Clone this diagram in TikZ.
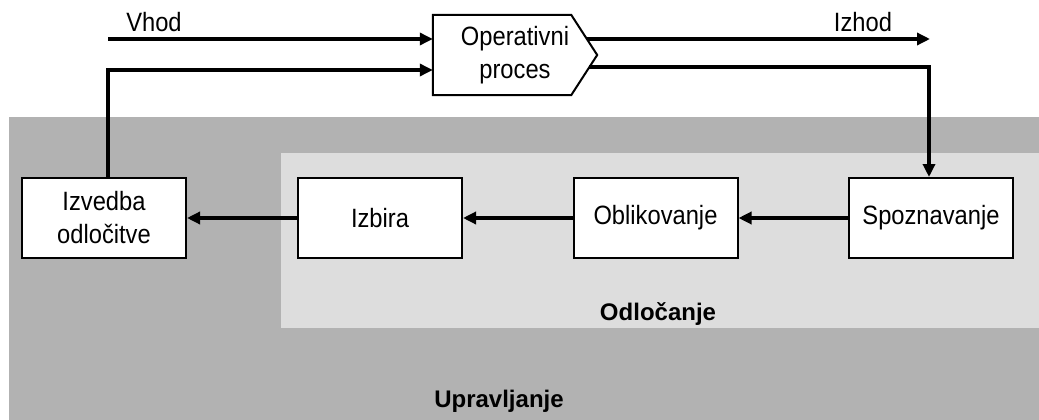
\documentclass[tikz,border=0pt]{standalone}
\usepackage{fontspec}
\setmainfont{Liberation Sans}
\newfontfamily\narrowfont{Liberation Sans}[FakeStretch=0.895]
\usetikzlibrary{arrows.meta,calc}
\definecolor{outerzone}{HTML}{B2B2B2}
\definecolor{innerzone}{HTML}{DDDDDD}
\tikzset{
  stepbox/.style={draw=black, line width=2pt, fill=white, minimum width=164pt,
    minimum height=80pt, inner sep=0pt, align=center,
    font=\narrowfont\fontsize{26.5}{33}\selectfont},
  flow/.style={line width=3.8pt, -{Triangle[length=13pt,width=12pt]}},
  lbl/.style={inner sep=0pt, anchor=base, font=\narrowfont\fontsize{26.5}{33}\selectfont},
  zonelbl/.style={inner sep=0pt, anchor=base, font=\bfseries\fontsize{24}{28}\selectfont}
}
\begin{document}
\begin{tikzpicture}[x=1pt, y=-1pt]
  \useasboundingbox (0,0) rectangle (1039,420);
  % management and decision zones
  \fill[outerzone] (9,117) rectangle (1039,420);
  \fill[innerzone] (281,153) rectangle (1039,328);
  \node[zonelbl] (upr) at (499,407) {Upravljanje};
  \node[zonelbl] (odl) at (658,320) {Odločanje};

  % operating process (pentagon pointing right)
  \node[inner sep=0pt, minimum width=164pt, minimum height=80pt, align=center,
        font=\narrowfont\fontsize{26.5}{33}\selectfont] (op) at (515,55)
        {Operativni\\proces};
  \draw[line width=2pt, line join=miter]
    (op.north west) -- ([xshift=-26pt]op.north east) -- (op.east)
    -- ([xshift=-26pt]op.south east) -- (op.south west) -- cycle;

  % decision steps
  \node[stepbox] (izv) at (104,218) {Izvedba\\odločitve};
  \node[stepbox] (izb) at (380,218) {Izbira};
  \node[stepbox] (obl) at (655.5,218) {Oblikovanje};
  \node[stepbox] (spo) at (931,218) {Spoznavanje};

  % input and output
  \coordinate (vin) at (108,39);
  \coordinate (vout) at (586.6,39);
  \coordinate (vend) at (930,39);
  \coordinate (fbout) at (589.2,67);
  \coordinate (fbturn) at (929,67);
  \coordinate (fbin) at (108,70);
  \node[lbl] (vhodlbl) at (154,32) {Vhod};
  \node[lbl] (izhodlbl) at (863,32) {Izhod};

  \draw[flow] (vin) -- (vin -| op.west);
  \draw[flow] (vout) -- (vend);
  \draw[flow] (fbout) -- (fbturn) -- (fbturn |- spo.north);
  \draw[flow, line join=miter] ([xshift=4pt]izv.north) -- ([xshift=4pt]izv.north |- fbin)
        -- (fbin -| op.west);

  % decision chain
  \draw[flow] (spo.west) -- (obl.east);
  \draw[flow] (obl.west) -- (izb.east);
  \draw[flow] (izb.west) -- (izv.east);
\end{tikzpicture}
\end{document}
